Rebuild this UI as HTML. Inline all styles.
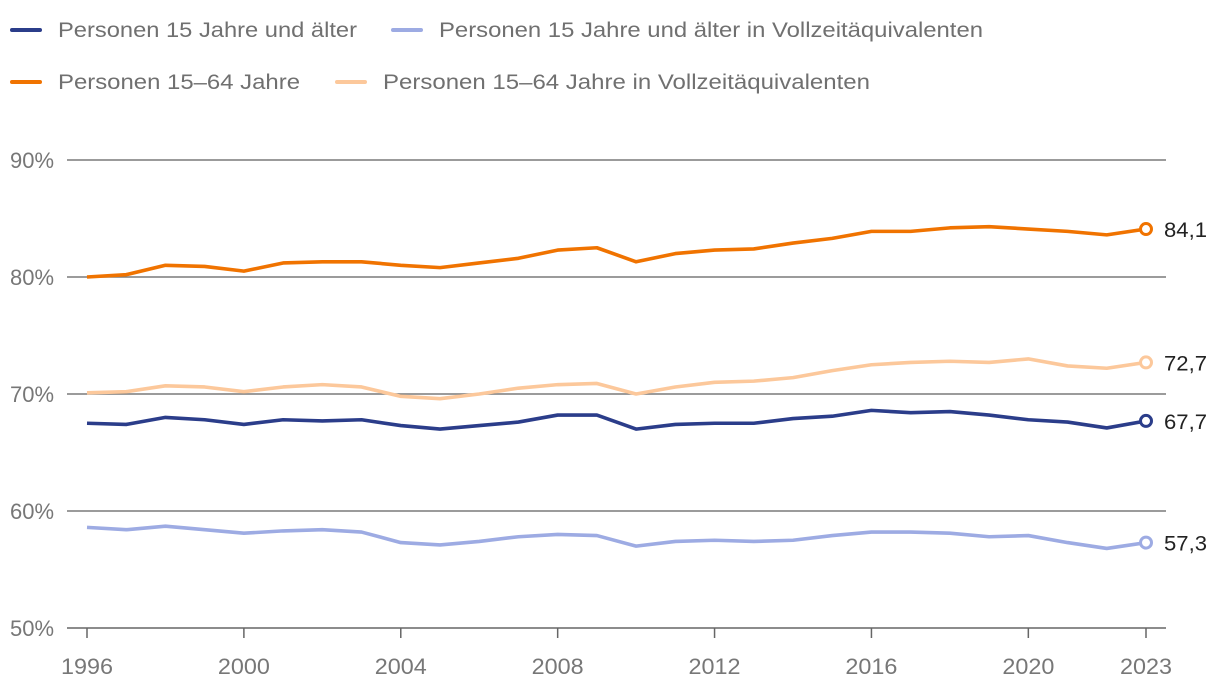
<!DOCTYPE html>
<html><head><meta charset="utf-8"><style>
body{margin:0;background:#fff;}
svg text{font-family:"Liberation Sans",sans-serif;}
</style></head><body>
<svg id="chart" width="1220" height="690" xmlns="http://www.w3.org/2000/svg">
<g id="legend">
 <g><line x1="12" y1="30" x2="40" y2="30" stroke="#2b3d8a" stroke-width="4" stroke-linecap="round"/><text x="58" y="37" font-size="21" fill="#707070" textLength="299" lengthAdjust="spacingAndGlyphs">Personen 15 Jahre und älter</text></g>
 <g><line x1="393" y1="30" x2="421" y2="30" stroke="#9dabe3" stroke-width="4" stroke-linecap="round"/><text x="439" y="37" font-size="21" fill="#707070" textLength="544" lengthAdjust="spacingAndGlyphs">Personen 15 Jahre und älter in Vollzeitäquivalenten</text></g>
 <g><line x1="12" y1="82" x2="40" y2="82" stroke="#f07300" stroke-width="4" stroke-linecap="round"/><text x="58" y="89" font-size="21" fill="#707070" textLength="242" lengthAdjust="spacingAndGlyphs">Personen 15–64 Jahre</text></g>
 <g><line x1="337" y1="82" x2="365" y2="82" stroke="#fcc89b" stroke-width="4" stroke-linecap="round"/><text x="383" y="89" font-size="21" fill="#707070" textLength="487" lengthAdjust="spacingAndGlyphs">Personen 15–64 Jahre in Vollzeitäquivalenten</text></g>
</g>
<g id="grid"></g><g id="axes"></g><g id="series"></g>
</svg>
<script>
const years=[1996,1997,1998,1999,2000,2001,2002,2003,2004,2005,2006,2007,2008,2009,2010,2011,2012,2013,2014,2015,2016,2017,2018,2019,2020,2021,2022,2023];
const yTicks=[50,60,70,80,90];
const xTicks=[1996,2000,2004,2008,2012,2016,2020,2023];
const age1564=[80.0,80.2,81.0,80.9,80.5,81.2,81.3,81.3,81.0,80.8,81.2,81.6,82.3,82.5,81.3,82.0,82.3,82.4,82.9,83.3,83.9,83.9,84.2,84.3,84.1,83.9,83.6,84.1];
const age1564fte=[70.1,70.2,70.7,70.6,70.2,70.6,70.8,70.6,69.8,69.6,70.0,70.5,70.8,70.9,70.0,70.6,71.0,71.1,71.4,72.0,72.5,72.7,72.8,72.7,73.0,72.4,72.2,72.7];
const age15plus=[67.5,67.4,68.0,67.8,67.4,67.8,67.7,67.8,67.3,67.0,67.3,67.6,68.2,68.2,67.0,67.4,67.5,67.5,67.9,68.1,68.6,68.4,68.5,68.2,67.8,67.6,67.1,67.7];
const age15plusfte=[58.6,58.4,58.7,58.4,58.1,58.3,58.4,58.2,57.3,57.1,57.4,57.8,58.0,57.9,57.0,57.4,57.5,57.4,57.5,57.9,58.2,58.2,58.1,57.8,57.9,57.3,56.8,57.3];
const labels=["84,1","72,7","67,7","57,3"];

const NS="http://www.w3.org/2000/svg";
const x=v=>87+(v-1996)*(1146-87)/27;
const y=v=>628-(v-50)*11.7;
function mk(tag,attrs,parent){const e=document.createElementNS(NS,tag);for(const k in attrs)e.setAttribute(k,attrs[k]);parent.appendChild(e);return e;}
const grid=document.getElementById('grid'),axes=document.getElementById('axes'),ser=document.getElementById('series');
yTicks.forEach(t=>{
 const l=mk('line',{x1:67,x2:1166,y1:y(t),y2:y(t),stroke:t===50?'#666':'#7a7a7a','stroke-width':1.5},grid);
 
 
 const tx=mk('text',{x:10,y:y(t)+8,'font-size':22,fill:'#777',textLength:44,lengthAdjust:'spacingAndGlyphs'},axes);tx.textContent=t+'%';
 
 
});
xTicks.forEach(yr=>{
 const tk=mk('line',{x1:x(yr),x2:x(yr),y1:628,y2:638,stroke:'#666','stroke-width':1.5},axes);
 
 
 const tx=mk('text',{x:x(yr),y:674,'font-size':22,fill:'#777','text-anchor':'middle',textLength:52,lengthAdjust:'spacingAndGlyphs'},axes);tx.textContent=yr;
 
 
});
const series=[[age15plusfte,'#9dabe3','line-15-plus-fte',3],[age15plus,'#2b3d8a','line-15-plus',2],[age1564fte,'#fcc89b','line-15-64-fte',1],[age1564,'#f07300','line-15-64',0]];
series.forEach(([d,c,n,li])=>{
 const p=mk('polyline',{points:d.map((v,i)=>x(years[i])+','+y(v)).join(' '),fill:'none',stroke:c,'stroke-width':3.6,'stroke-linejoin':'round'},ser);
 
 
 const last=d[d.length-1];
 const cc=mk('circle',{cx:x(2023),cy:y(last),r:5.5,fill:'#fff',stroke:c,'stroke-width':3},ser);
 
 
 const t=mk('text',{x:1164,y:y(last)+8,'font-size':21,fill:'#222',textLength:43,lengthAdjust:'spacingAndGlyphs'},ser);t.textContent=labels[li];
 
 
});
</script>
</body></html>
